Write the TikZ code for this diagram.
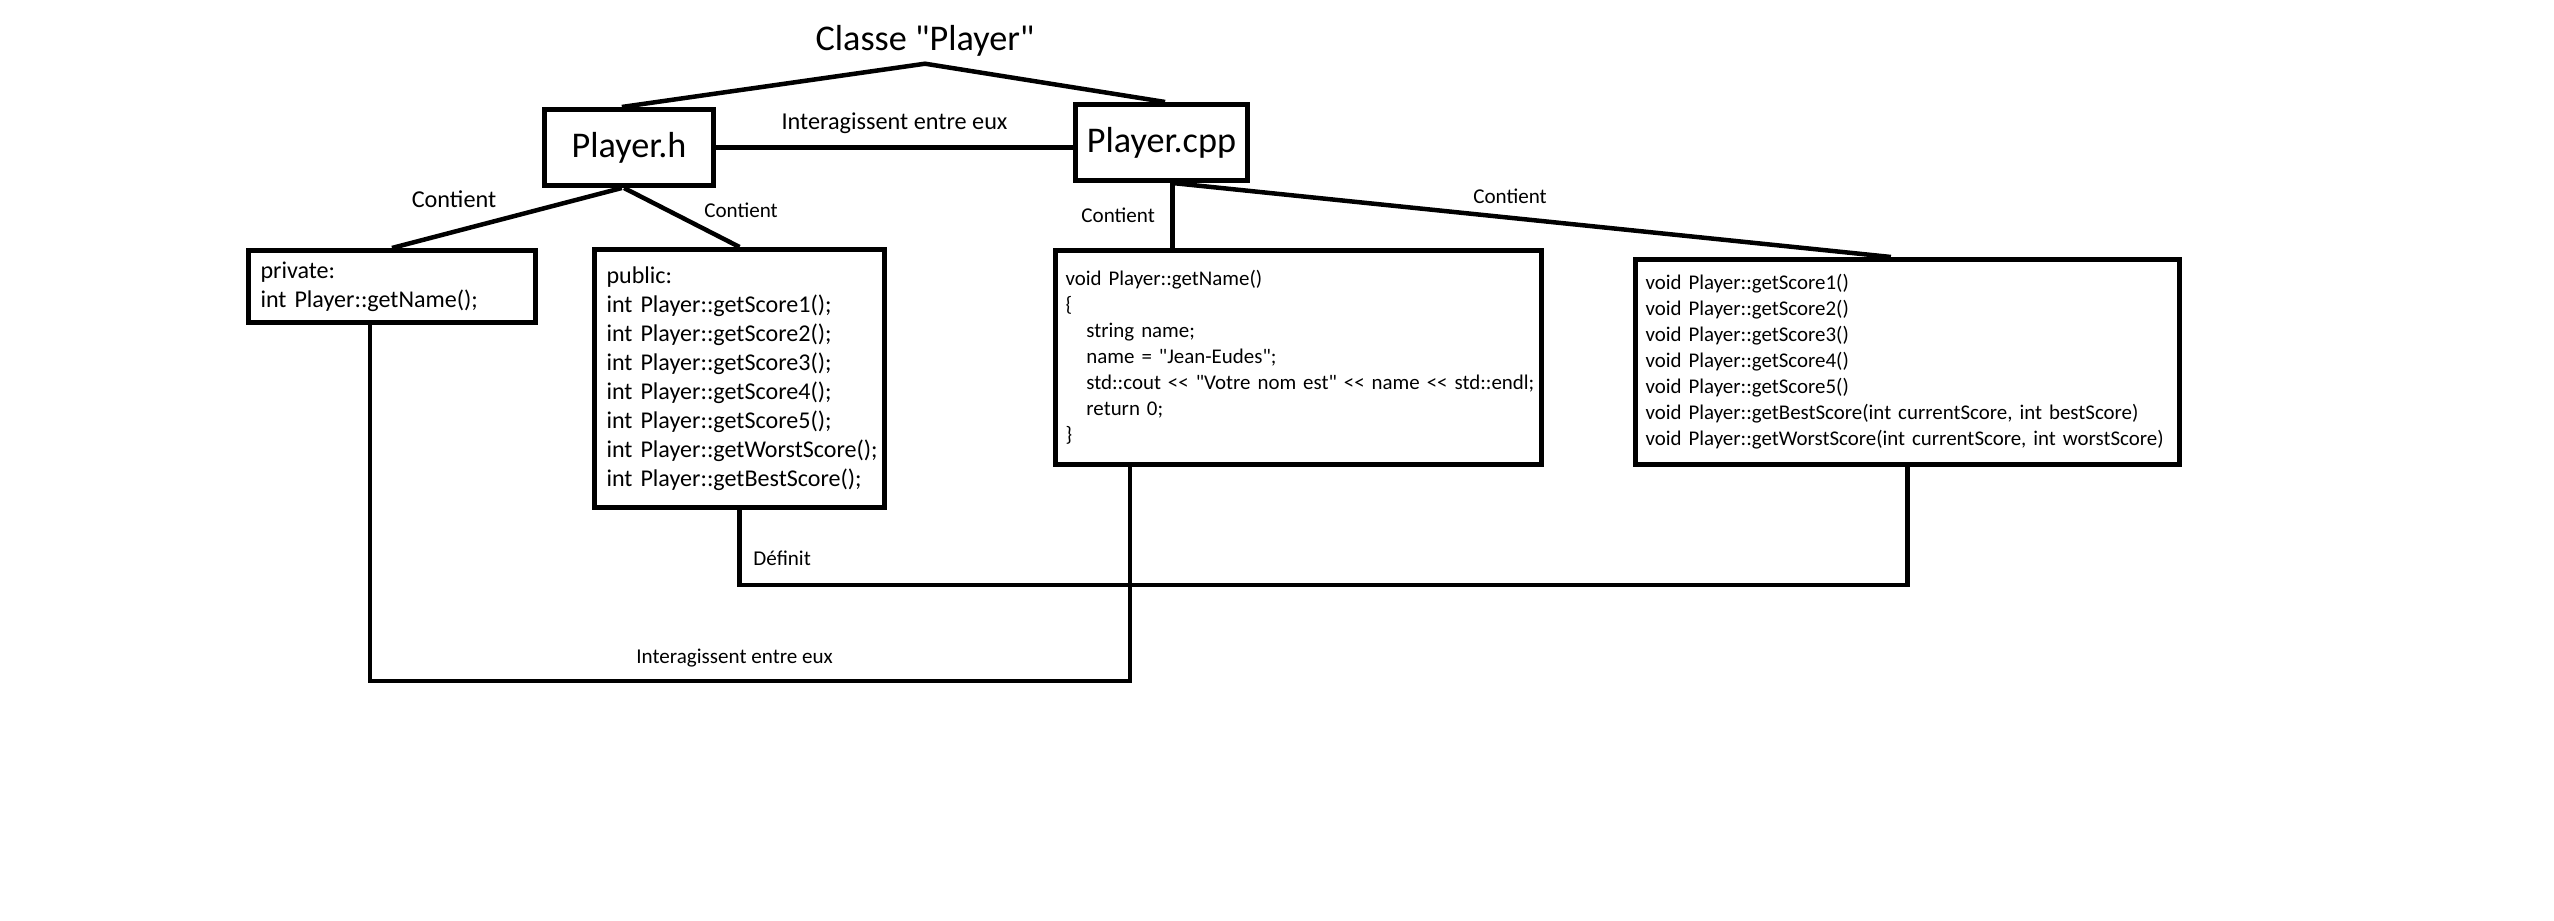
\documentclass[tikz,border=0pt]{standalone}
\usepackage{fontspec}
\setmainfont{Carlito}[Ligatures=TeXOff]

\begin{document}
\begin{tikzpicture}[
    box/.style={draw,line width=0.5mm,inner sep=0pt,font=\fontsize{10.3}{12.4}\selectfont},
    hcode/.style={draw,line width=0.5mm,align=left,inner xsep=1.2mm,inner ysep=0pt,font=\fontsize{6.85}{8.25}\selectfont},
    ccode/.style={draw,line width=0.5mm,align=left,inner xsep=1mm,inner ysep=0pt,font=\fontsize{5.95}{7.4}\selectfont},
    link/.style={line width=0.45mm},
    lbl/.style={font=\fontsize{6.9}{8}\selectfont},
    slbl/.style={font=\fontsize{6}{7}\selectfont}
  ]
    %FRAME
    \path[use as bounding box,fill=white] (0,0) rectangle (25.54,9.21);
    %TITLE + FILES
    \node[inner sep=2pt,font=\fontsize{10.3}{12.4}\selectfont] (title) at (9.25,8.805) {Classe "Player"};
    \node[box,minimum width=1.69cm,minimum height=0.76cm] (ph) at (6.29,7.735) {Player.h};
    \node[box,minimum width=1.72cm,minimum height=0.76cm] (pcpp) at (11.615,7.785) {Player.cpp};
    %HEADER BOXES
    \node[hcode,text width=2.63cm,minimum height=0.72cm] (priv) at (3.92,6.345)
      {private:\\\mbox{int Player::getName();}};
    \node[hcode,text width=2.66cm,minimum height=2.58cm] (pub) at (7.395,5.425)
      {public:\\int Player::getScore1();\\int Player::getScore2();\\int Player::getScore3();\\
       int Player::getScore4();\\int Player::getScore5();\\\mbox{int Player::getWorstScore();}\\
       \mbox{int Player::getBestScore();}};
    %CPP BOXES
    \node[ccode,text width=4.66cm,minimum height=2.14cm] (impl1) at (12.985,5.635)
      {void Player::getName()\\\{\\
       \quad string name;\\
       \quad name = "Jean-Eudes";\\
       \mbox{\quad std::cout << "Votre nom est" << name << std::endl;}\\
       \quad return 0;\\\}};
    \node[ccode,text width=5.24cm,minimum height=2.05cm] (impl2) at (19.075,5.59)
      {void Player::getScore1()\\void Player::getScore2()\\void Player::getScore3()\\
       void Player::getScore4()\\void Player::getScore5()\\
       \mbox{void Player::getBestScore(int currentScore, int bestScore)}\\
       \mbox{void Player::getWorstScore(int currentScore, int worstScore)}};
    %TOP LINKS
    \draw[link] (ph.100) -- (title.south) -- (pcpp.85);
    \draw[link] (ph.east) -- node[lbl,above] (ltop) {Interagissent entre eux} (ph.east -| pcpp.west);
    \draw[link] (ph.-100) -- (priv.north);
    \draw[link] (ph.-97) -- (pub.north);
    \node[lbl] (lpriv) at (4.54,7.22) {Contient};
    \node[slbl] (lpub) at (7.41,7.11) {Contient};
    \draw[link] (pcpp.-75) -- node[slbl,left=1pt] (limpl1) {Contient} (pcpp.-75 |- impl1.north);
    \draw[link] (pcpp.-75) -- node[slbl,pos=0.47,above=0pt] (limpl2) {Contient} (impl2.99);
    %BOTTOM LINKS
    \coordinate (lowa) at (0,2.40);
    \coordinate (lowb) at (0,3.36);
    \draw[link] (priv.-120) |- node[slbl,pos=0.74,above=0pt] (lbot) {Interagissent entre eux} (lowa -| impl1.-147) -- (impl1.-147);
    \draw[link] (pub.south) |- node[slbl,pos=0.32,right] (ldef) {Définit} (lowb -| impl2.south) -- (impl2.south);
\end{tikzpicture}
\end{document}
